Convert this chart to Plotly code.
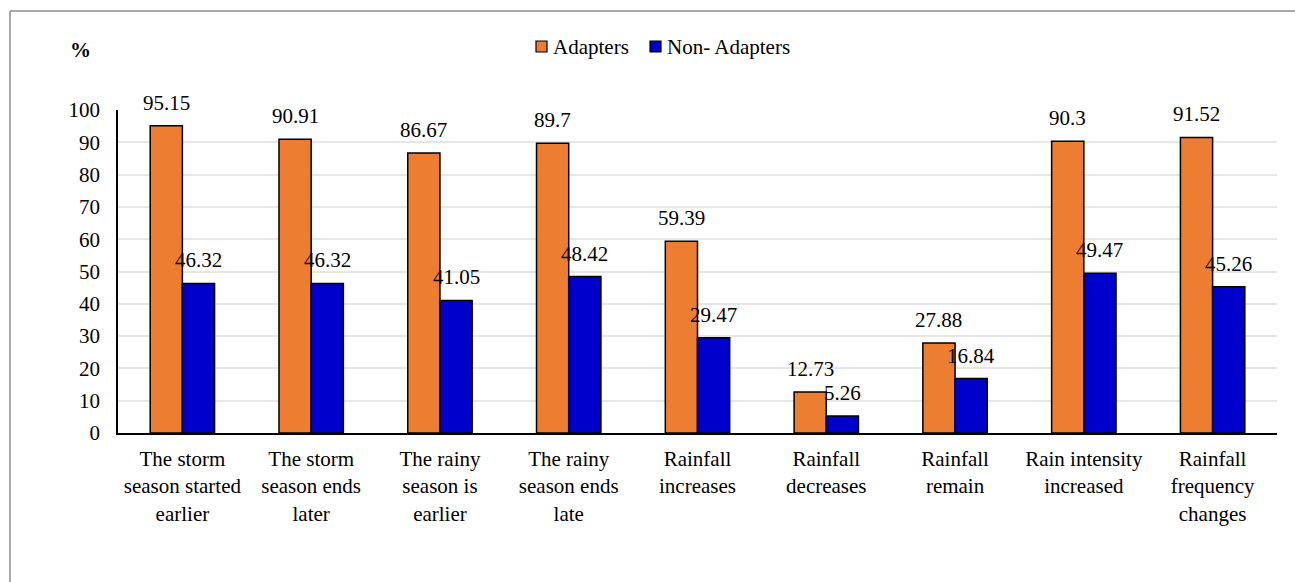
import plotly.graph_objects as go

categories = [
    "The storm<br>season started<br>earlier",
    "The storm<br>season ends<br>later",
    "The rainy<br>season is<br>earlier",
    "The rainy<br>season ends<br>late",
    "Rainfall<br>increases",
    "Rainfall<br>decreases",
    "Rainfall<br>remain",
    "Rain intensity<br>increased",
    "Rainfall<br>frequency<br>changes",
]
adapters = [95.15, 90.91, 86.67, 89.7, 59.39, 12.73, 27.88, 90.3, 91.52]
non_adapters = [46.32, 46.32, 41.05, 48.42, 29.47, 5.26, 16.84, 49.47, 45.26]
adapter_labels = ["95.15", "90.91", "86.67", "89.7", "59.39", "12.73", "27.88", "90.3", "91.52"]
non_adapter_labels = ["46.32", "46.32", "41.05", "48.42", "29.47", "5.26", "16.84", "49.47", "45.26"]
series_names = ["Adapters", "Non- Adapters"]
y_ticks = [0, 10, 20, 30, 40, 50, 60, 70, 80, 90, 100]

W, H = 1295, 582
L, R, T, B = 118, 18, 110, 149
pw = W - L - R
ph = H - T - B

FONT = "Times New Roman, Liberation Serif, DejaVu Serif, Noto Serif, serif"
ORANGE = "#ED7D31"
BLUE = "#0000CC"

fig = go.Figure()
fig.add_trace(go.Bar(x=categories, y=adapters, name=series_names[0],
                     marker=dict(color=ORANGE, line=dict(color="black", width=1.5))))
fig.add_trace(go.Bar(x=categories, y=non_adapters, name=series_names[1],
                     marker=dict(color=BLUE, line=dict(color="black", width=1.5))))

slot = pw / len(categories)
bw = slot * 0.5 / 2
annotations = []
for c, v, t in zip(categories, adapters, adapter_labels):
    annotations.append(dict(x=c, y=v, text=t, showarrow=False, xshift=-bw / 2,
                            yanchor="bottom", yshift=9,
                            font=dict(family=FONT, size=21, color="black")))
for c, v, t in zip(categories, non_adapters, non_adapter_labels):
    annotations.append(dict(x=c, y=v, text=t, showarrow=False, xshift=bw / 2,
                            yanchor="bottom", yshift=9,
                            font=dict(family=FONT, size=21, color="black")))
annotations.append(dict(xref="paper", yref="paper", x=(80 - L) / pw, y=1 + (T - 50) / ph,
                        text="<b>%</b>", showarrow=False, xanchor="center", yanchor="middle",
                        font=dict(family=FONT, size=21, color="black")))

def px_x(p):
    return (p - L) / pw

def px_y(p):
    return 1 + (T - p) / ph

legend_y = 47
legend_items = [(series_names[0], ORANGE, 536), (series_names[1], BLUE, 650)]
shapes = []
for name, col, x0 in legend_items:
    shapes.append(dict(type="rect", xref="paper", yref="paper",
                       x0=px_x(x0), x1=px_x(x0 + 11), y0=px_y(legend_y - 6), y1=px_y(legend_y + 5),
                       fillcolor=col, line=dict(color="black", width=1.2)))
    annotations.append(dict(xref="paper", yref="paper", x=px_x(x0 + 15), y=px_y(legend_y),
                            text=name, showarrow=False, xanchor="left", yanchor="middle",
                            font=dict(family=FONT, size=21, color="black")))

shapes += [
    dict(type="line", xref="paper", yref="paper",
         x0=px_x(10), x1=px_x(10), y0=px_y(11), y1=px_y(H + 5),
         line=dict(color="#8c8c8c", width=1.5)),
    dict(type="line", xref="paper", yref="paper",
         x0=px_x(10), x1=px_x(W + 5), y0=px_y(11), y1=px_y(11),
         line=dict(color="#8c8c8c", width=1.5)),
]

fig.update_layout(
    width=W, height=H,
    margin=dict(l=L, r=R, t=T, b=B),
    paper_bgcolor="white", plot_bgcolor="white",
    barmode="group", bargap=0.5, bargroupgap=0,
    font=dict(family=FONT, size=21, color="black"),
    showlegend=False,
    annotations=annotations,
    shapes=shapes,
    xaxis=dict(showline=True, linecolor="black", linewidth=1.5, ticks="",
               tickfont=dict(family=FONT, size=21), ticklabelstandoff=6,
               showgrid=False),
    yaxis=dict(range=[0, 100], tickvals=y_ticks, showline=True, linecolor="black",
               linewidth=1.5, ticks="", showgrid=True, gridcolor="#e6e6e6", gridwidth=1.5,
               zeroline=False, tickfont=dict(family=FONT, size=21), ticklabelstandoff=12),
)

fig.write_html("out.html")
